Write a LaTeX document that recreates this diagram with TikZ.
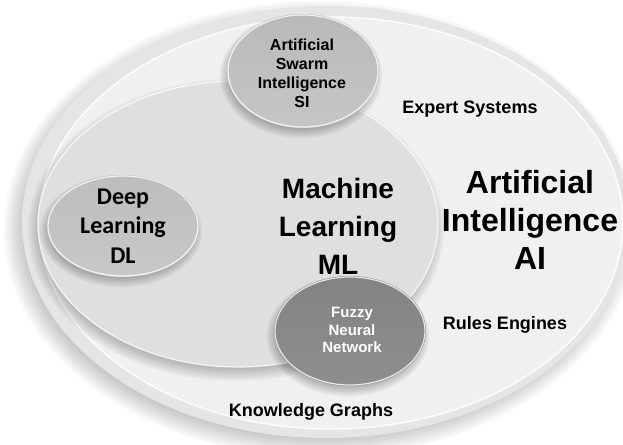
\documentclass[tikz,border=0pt]{standalone}
\usepackage{fontspec}
\setmainfont{Liberation Sans}
\newfontfamily\calib{Carlito}
\definecolor{aiEdge}{HTML}{E5E5E5}
\definecolor{aiFill}{HTML}{F0F0F0}
\definecolor{mlFill}{HTML}{DFDFDF}
\definecolor{siTop}{HTML}{B9B9B9}
\definecolor{siBot}{HTML}{C6C6C6}
\definecolor{dlTop}{HTML}{BDBDBD}
\definecolor{dlBot}{HTML}{C8C8C8}
\definecolor{fnTop}{HTML}{838383}
\definecolor{fnBot}{HTML}{8E8E8E}
\begin{document}
\begin{tikzpicture}[x=0.75pt,y=-0.75pt,
  txt/.style={align=center, inner sep=0pt, text=black},
  rim/.style={draw=white, line width=0.9pt, draw opacity=0.8},
  lbl/.style={inner sep=0pt, text=black, font=\bfseries\fontsize{13.5}{16}\selectfont},
  aifont/.style={font=\bfseries\fontsize{24}{28.5}\selectfont},
  mlfont/.style={font=\bfseries\fontsize{21}{28.5}\selectfont},
  dlfont/.style={font=\calib\bfseries\fontsize{18}{22}\selectfont},
  sifont/.style={font=\bfseries\fontsize{12}{14.2}\selectfont},
  fnfont/.style={font=\bfseries\fontsize{11.25}{13.3}\selectfont},
]
\useasboundingbox (0,0) rectangle (623,445);
\fill[white] (0,0) rectangle (623,445);

% ---- AI (outer) ----
\foreach \s in {-12,-9,...,12}
  \fill[black,opacity=0.03] (320,229) ellipse ({304+\s} and {216+\s});
\fill[aiEdge] (326,222) ellipse (304 and 216);
\fill[aiFill] (331,223) ellipse (292 and 206);
\draw[white, line width=1.1pt, draw opacity=0.9] (331,223) ellipse (292 and 206);

% ---- ML ----
\foreach \s in {-8,-6,...,8}
  \fill[black,opacity=0.035] (236,230) ellipse ({200+\s} and {143+\s});
\fill[mlFill] (238,224) ellipse (200 and 143);
\draw[rim] (238,224) ellipse (200 and 143);

% ---- DL ----
\foreach \s in {-5,-3,...,5}
  \fill[black,opacity=0.05] (121,231) ellipse ({76+\s} and {51+\s});
\shade[top color=dlTop, bottom color=dlBot] (123,226) ellipse (76 and 51);
\draw[rim] (123,226) ellipse (75 and 50);

% ---- SI ----
\foreach \s in {-5,-3,...,5}
  \fill[black,opacity=0.05] (301,76) ellipse ({76+\s} and {57+\s});
\shade[top color=siTop, bottom color=siBot] (303,71) ellipse (76 and 57);
\draw[rim] (303,71) ellipse (75 and 56);

% ---- FNN ----
\foreach \s in {-5,-3,...,5}
  \fill[black,opacity=0.05] (348,336) ellipse ({76+\s} and {55+\s});
\shade[top color=fnTop, bottom color=fnBot] (350,331) ellipse (76 and 55);
\draw[rim] (350,331) ellipse (75 and 54);

% ---- texts ----
\node[txt, aifont] (aiT) at (530,220) {Artificial\\Intelligence\\AI};
\node[txt, mlfont] (mlT) at (338,226) {Machine\\Learning\\ML};
\node[txt, dlfont] (dlT) at (123,226) {Deep\\Learning\\DL};
\node[txt, sifont] (siT) at (302,73) {Artificial\\Swarm\\Intelligence\\SI};
\node[txt, text=white, fnfont] (fnT) at (352,330) {Fuzzy\\Neural\\Network};

\node[lbl] (es) at (470,109) {Expert Systems};
\node[lbl] (re) at (505,325) {Rules Engines};
\node[lbl] (kg) at (311,412) {Knowledge Graphs};
\end{tikzpicture}
\end{document}
